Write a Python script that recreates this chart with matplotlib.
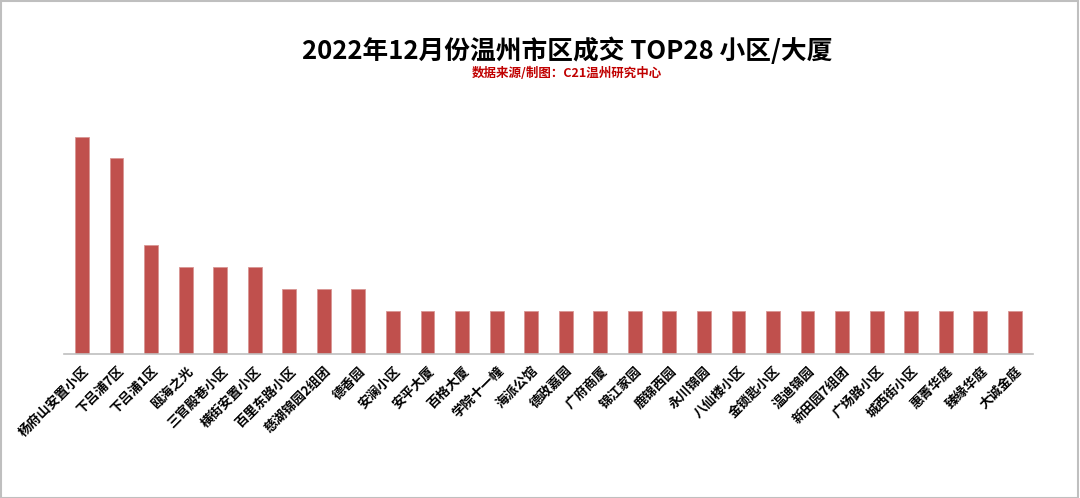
import matplotlib
matplotlib.use("Agg")
import matplotlib.pyplot as plt
from matplotlib.patches import Rectangle

plt.rcParams['font.family'] = ['Noto Sans CJK SC', 'DejaVu Sans']

# data
names = ["杨府山安置小区", "下吕浦7区", "下吕浦1区", "瓯海之光", "三官殿巷小区",
         "横街安置小区", "百里东路小区", "慈湖锦园2组团", "德香园", "安澜小区",
         "安平大厦", "百格大厦", "学院十一幢", "海派公馆", "德政嘉园",
         "广府商厦", "锦江家园", "鹿锦西园", "永川锦园", "八仙楼小区",
         "金锁匙小区", "温迪锦园", "新田园7组团", "广场路小区", "城西街小区",
         "惠菁华庭", "臻缘华庭", "大诚金庭"]
deals = [10, 9, 5, 4, 4, 4, 3, 3, 3, 2,
         2, 2, 2, 2, 2, 2, 2, 2, 2, 2,
         2, 2, 2, 2, 2, 2, 2, 2]

fig = plt.figure(figsize=(10.8, 4.98), dpi=100)
ax = fig.add_axes([0.0593, 0.289, 0.897, 0.48])

x = range(len(names))
ax.bar(x, deals, width=0.4, color="#c0504d", edgecolor="#d99694", linewidth=0.6)

ax.set_xlim(-0.52, len(names) - 0.48)
ax.set_ylim(0, 11)
ax.set_xticks(list(x))
ax.set_xticklabels(names, rotation=45, ha="right", rotation_mode="anchor",
                   fontsize=9.5, fontweight="bold")
ax.tick_params(axis="x", length=0, pad=7)
ax.set_yticks([])
for s in ["top", "right", "left"]:
    ax.spines[s].set_visible(False)
ax.spines["bottom"].set_color("#bfbfbf")
ax.spines["bottom"].set_linewidth(1.2)

fig.text(0.525, 0.898, "2022年12月份温州市区成交 TOP28 小区/大厦",
         ha="center", va="center", fontsize=18.5, fontweight="bold")
fig.text(0.525, 0.852, "数据来源/制图：C21温州研究中心",
         ha="center", va="center", fontsize=9, fontweight="bold", color="#c00000")

fig.patches.append(Rectangle((0.0005, 0.001), 0.998, 0.997, transform=fig.transFigure,
                             fill=False, edgecolor="#bfbfbf", linewidth=1.5))

fig.savefig("out.png", dpi=100)
